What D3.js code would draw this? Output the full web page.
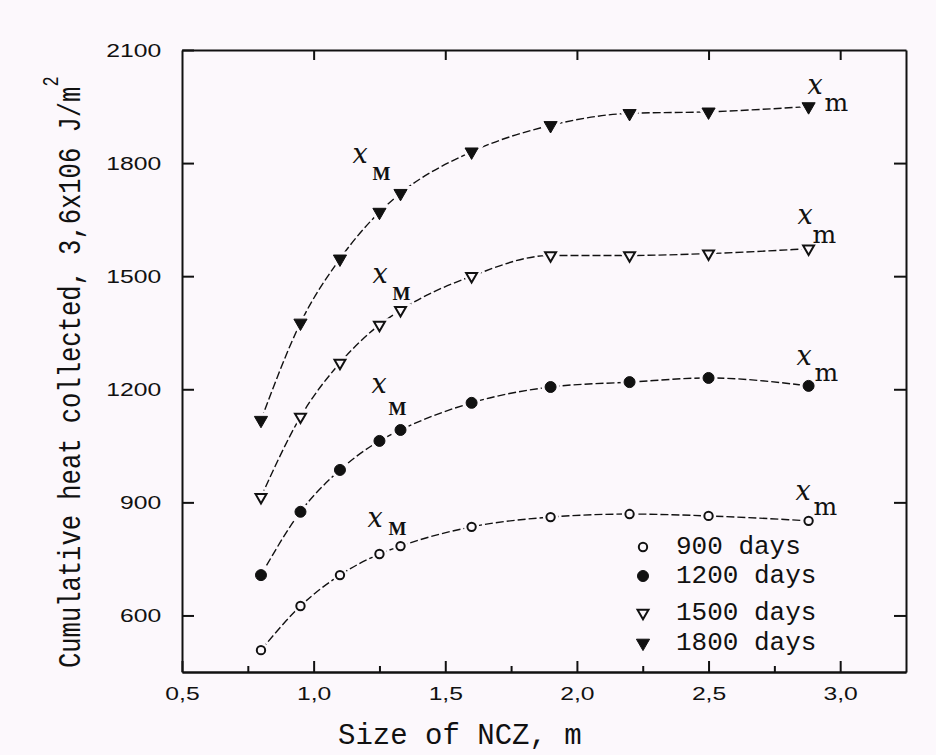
<!DOCTYPE html>
<html>
<head>
<meta charset="utf-8">
<script src="https://cdn.jsdelivr.net/npm/d3@7"></script>
<style>
  body { margin: 0; background: #fcf8fc; }
  svg { display: block; }
</style>
</head>
<body>
<svg id="chart" width="936" height="755"></svg>
<script>
// data
var xValues = [ 0.8, 0.95, 1.1, 1.25, 1.33, 1.6, 1.9, 2.2, 2.5, 2.88 ];
var days900 = [ 508, 625, 707, 763, 784, 835, 861, 869, 864, 851 ];
var days1200 = [ 707, 875, 986, 1063, 1092, 1164, 1206, 1219, 1230, 1209 ];
var days1500 = [ 914, 1127, 1270, 1371, 1410, 1500, 1555, 1555, 1560, 1573 ];
var days1800 = [ 1118, 1376, 1546, 1670, 1720, 1830, 1900, 1932, 1936, 1950 ];
var seriesNames = [ "900 days", "1200 days", "1500 days", "1800 days" ];
var xTicks = [ 0.5, 1.0, 1.5, 2.0, 2.5, 3.0 ];
var xMinorTicks = [ 0.75, 1.25, 1.75, 2.25, 2.75 ];
var yTicks = [ 600, 900, 1200, 1500, 1800, 2100 ];

var bg = "#fcf8fc";
var ink = "#111";
var svg = d3.select( "#chart" );
svg.append( "rect" ).attr( "width", 936 ).attr( "height", 755 ).attr( "fill", bg );

var x = d3.scaleLinear().domain( [ 0.5, 3.25 ] ).range( [ 182, 906 ] );
var y = d3.scaleLinear().domain( [ 450, 2100 ] ).range( [ 672, 50 ] );
var comma = function( d ) { return d3.format( ".1f" )( d ).replace( ".", "," ); };

function styleAxis( g ) {
    g.select( ".domain" ).attr( "stroke", ink ).attr( "stroke-width", 2 );
    g.selectAll( ".tick line" ).attr( "stroke", ink ).attr( "stroke-width", 2 );
    g.selectAll( ".tick text" )
        .attr( "fill", ink )
        .style( "font-family", "'Liberation Sans', Arial, sans-serif" )
        .style( "font-size", "19px" )
        .attr( "transform", "scale(1.3,1)" );
}

// frame + ticks
svg.append( "g" ).attr( "transform", "translate(0," + y( 450 ) + ")" )
    .call( d3.axisBottom( x ).tickValues( xMinorTicks ).tickSizeInner( -6 ).tickSizeOuter( 0 ).tickFormat( "" ) )
    .call( styleAxis );
svg.append( "g" ).attr( "transform", "translate(0," + y( 450 ) + ")" )
    .call( d3.axisBottom( x ).tickValues( xTicks ).tickSizeInner( -11 ).tickSizeOuter( 0 ).tickPadding( 15 ).tickFormat( comma ) )
    .call( styleAxis );
svg.append( "g" ).attr( "transform", "translate(0," + y( 2100 ) + ")" )
    .call( d3.axisTop( x ).tickValues( xTicks.slice( 1 ) ).tickSizeInner( -10 ).tickSizeOuter( 0 ).tickFormat( "" ) )
    .call( styleAxis );
svg.append( "g" ).attr( "transform", "translate(" + x( 0.5 ) + ",0)" )
    .call( d3.axisLeft( y ).tickValues( yTicks ).tickSizeInner( -12 ).tickSizeOuter( 0 ).tickPadding( 16 ).tickFormat( d3.format( "d" ) ) )
    .call( styleAxis );
svg.append( "g" ).attr( "transform", "translate(" + x( 3.25 ) + ",0)" )
    .call( d3.axisRight( y ).tickValues( yTicks.slice( 0, 5 ) ).tickSizeInner( -12 ).tickSizeOuter( 0 ).tickFormat( "" ) )
    .call( styleAxis );

// series
var series = [
    { name: seriesNames[ 0 ], values: days900, shape: d3.symbolCircle, size: 55, filled: false, rot: 0 },
    { name: seriesNames[ 1 ], values: days1200, shape: d3.symbolCircle, size: 95, filled: true, rot: 0 },
    { name: seriesNames[ 2 ], values: days1500, shape: d3.symbolTriangle, size: 52, filled: false, rot: 180 },
    { name: seriesNames[ 3 ], values: days1800, shape: d3.symbolTriangle, size: 75, filled: true, rot: 180 }
];

var line = d3.line()
    .x( function( d, i ) { return x( xValues[ i ] ); } )
    .y( function( d ) { return y( d ); } )
    .curve( d3.curveMonotoneX );

series.forEach( function( s ) {
    svg.append( "path" )
        .attr( "d", line( s.values ) )
        .attr( "fill", "none" )
        .attr( "stroke", ink )
        .attr( "stroke-width", 1.4 )
        .attr( "stroke-dasharray", "8,3" );
} );

function drawMarker( g, s, px, py ) {
    var p = d3.symbol().type( s.shape ).size( s.size )();
    var tr = "translate(" + px + "," + py + ") rotate(" + s.rot + ")";
    g.append( "path" ).attr( "d", p ).attr( "transform", tr )
        .attr( "fill", bg ).attr( "stroke", bg ).attr( "stroke-width", 7 );
    g.append( "path" ).attr( "d", p ).attr( "transform", tr )
        .attr( "fill", s.filled ? ink : bg )
        .attr( "stroke", ink )
        .attr( "stroke-width", s.filled ? 1 : 2 );
}

var marks = svg.append( "g" );
series.forEach( function( s ) {
    s.values.forEach( function( v, i ) {
        drawMarker( marks, s, x( xValues[ i ] ), y( v ) );
    } );
} );

// x_M and x_m annotations (pixel offsets from the marked point)
var maxOffsets = [ [ -33, -19, -12, -11 ], [ -29, -37, -12, -15 ], [ -28, -27, -8, -10 ], [ -48, -30, -28, -13 ] ];
var minOffsets = [ [ -13, -21, 5, -6 ], [ -12, -21, 6, -5 ], [ -11, -25, 4, -6 ], [ -1, -13, 16, 4 ] ];

function annotate( s, idx, off, sub, subFont ) {
    var px = x( xValues[ idx ] ), py = y( s.values[ idx ] );
    svg.append( "text" )
        .attr( "x", px + off[ 0 ] ).attr( "y", py + off[ 1 ] )
        .attr( "fill", ink )
        .style( "font-family", "'DejaVu Serif', serif" )
        .style( "font-style", "italic" )
        .style( "font-size", "27px" )
        .text( "x" );
    svg.append( "text" )
        .attr( "x", px + off[ 2 ] ).attr( "y", py + off[ 3 ] )
        .attr( "fill", ink )
        .style( "font-family", subFont.family )
        .style( "font-weight", subFont.weight )
        .style( "font-size", subFont.size )
        .text( sub );
}

series.forEach( function( s, k ) {
    annotate( s, 4, maxOffsets[ k ], "M", { family: "'Liberation Serif', serif", weight: "bold", size: "19px" } );
    annotate( s, 9, minOffsets[ k ], "m", { family: "'DejaVu Serif', serif", weight: "normal", size: "25px" } );
} );

// legend
var legendRowY = [ 547, 576, 613, 643 ];
var legend = svg.append( "g" );
series.forEach( function( s, k ) {
    drawMarker( legend, s, 643, legendRowY[ k ] );
    legend.append( "text" )
        .attr( "x", 676 ).attr( "y", legendRowY[ k ] + 7 )
        .attr( "fill", ink )
        .style( "font-family", "'Liberation Mono', monospace" )
        .style( "font-size", "26px" )
        .text( s.name );
} );

// axis titles
svg.append( "text" )
    .attr( "x", 338 ).attr( "y", 744 )
    .attr( "fill", ink )
    .style( "font-family", "'Liberation Mono', monospace" )
    .style( "font-size", "29px" )
    .text( "Size of NCZ, m" );

var yTitle = svg.append( "text" )
    .attr( "transform", "translate(80,668) rotate(-90) scale(1,1.25)" )
    .attr( "fill", ink )
    .style( "font-family", "'Liberation Mono', monospace" )
    .style( "font-size", "25.5px" );
yTitle.append( "tspan" ).text( "Cumulative heat collected, 3,6x106 J/m" );
yTitle.append( "tspan" ).attr( "dy", -18 ).style( "font-size", "17px" ).text( "2" );
</script>
</body>
</html>
